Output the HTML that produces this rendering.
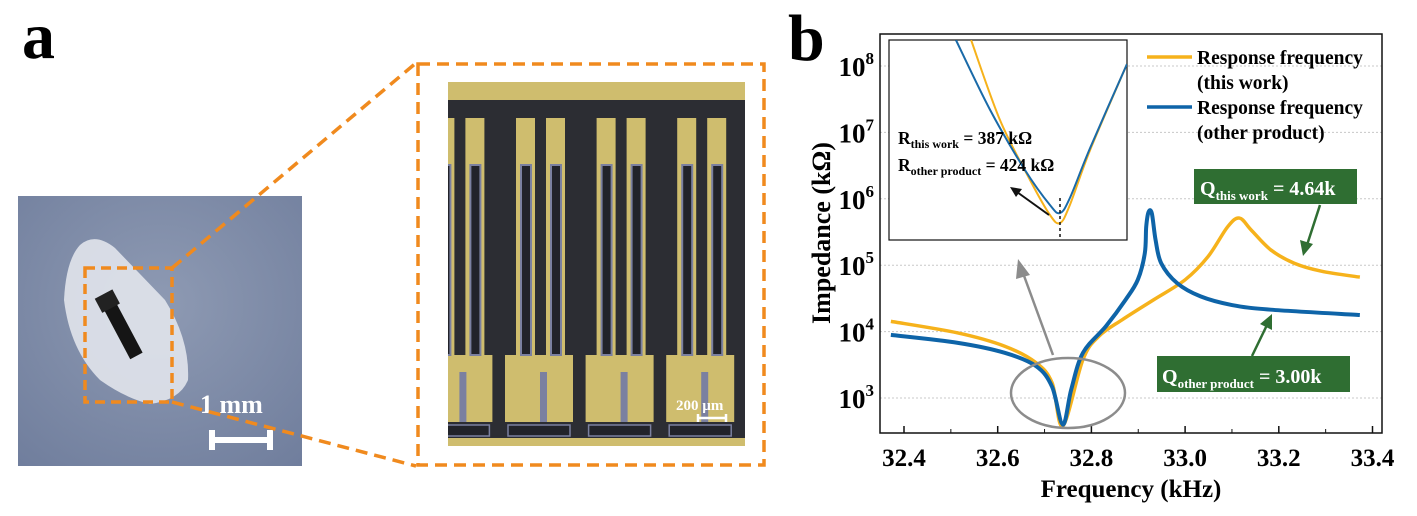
<!DOCTYPE html>
<html><head><meta charset="utf-8"><style>
html,body{margin:0;padding:0;background:#fff;}
svg{display:block;font-family:"Liberation Serif",serif;}
</style></head><body>
<svg id="fig" width="1417" height="516" viewBox="0 0 1417 516" xmlns="http://www.w3.org/2000/svg">
<defs>
<clipPath id="micClip"><rect x="448" y="82" width="297" height="364"/></clipPath>
<clipPath id="plotClip"><rect x="880" y="34" width="502" height="399"/></clipPath>
<clipPath id="insetClip"><rect x="889" y="40" width="238" height="200"/></clipPath>
<radialGradient id="bg" cx="0.5" cy="0.4" r="0.8"><stop offset="0" stop-color="#8e9ab3"/><stop offset="1" stop-color="#6f7d9c"/></radialGradient>
</defs>
<!-- panel a -->
<text x="22" y="58" font-size="66" font-weight="bold">a</text>
<g>
<rect x="18" y="196" width="284" height="270" fill="url(#bg)"/>
<path d="M80 245 Q95 232 115 248 L165 300 Q190 340 188 380 Q180 400 150 404 Q125 398 100 380 Q70 350 64 300 Q66 260 80 245Z" fill="#dfe3ea" opacity="0.92"/>
<g transform="rotate(-28 120 325)"><rect x="113" y="295" width="14" height="65" fill="#151515"/><rect x="110" y="290" width="20" height="16" fill="#222"/></g>
<text x="200" y="413" fill="#fff" font-size="26" font-weight="bold">1 mm</text>
<path d="M212 440 H270 M212 430 V450 M270 430 V450" stroke="#fff" stroke-width="6" fill="none"/>
</g>
<rect x="85" y="268" width="87" height="134" fill="none" stroke="#f08a1e" stroke-width="3.5" stroke-dasharray="10 6"/>
<path d="M172 268 L416 63 M172 402 L416 466" stroke="#f08a1e" stroke-width="3.5" stroke-dasharray="12 7" fill="none"/>
<rect x="418" y="64" width="346" height="401" fill="none" stroke="#f08a1e" stroke-width="3.5" stroke-dasharray="12 7"/>
<g clip-path="url(#micClip)" id="mic">
<rect x="448" y="82" width="297" height="364" fill="#2c2d33"/>
<rect x="448" y="82" width="297" height="18" fill="#cfbd6e"/>
<rect x="448" y="438" width="297" height="8" fill="#cfbd6e"/>
</g>
<text x="676" y="410" fill="#fff" font-size="15" font-weight="bold">200 µm</text>
<path d="M698 418 H726 M698 414 V422 M726 414 V422" stroke="#fff" stroke-width="2.5" fill="none"/>
<!-- panel b -->
<text x="788" y="60" font-size="66" font-weight="bold">b</text>
<g id="grid"></g>
<g id="main" clip-path="url(#plotClip)"></g>
<rect x="880" y="34" width="502" height="399" fill="none" stroke="#111" stroke-width="1.5"/>
<g id="axes"></g>
<text transform="translate(830 233) rotate(-90)" text-anchor="middle" font-size="26" font-weight="bold">Impedance (kΩ)</text>
<text x="1131" y="497" text-anchor="middle" font-size="25" font-weight="bold">Frequency (kHz)</text>
<!-- inset -->
<rect x="889" y="40" width="238" height="200" fill="#fff" stroke="#111" stroke-width="1.2"/>
<g id="inset" clip-path="url(#insetClip)"></g>
<line x1="1060" y1="198" x2="1060" y2="240" stroke="#111" stroke-width="1.5" stroke-dasharray="3 3"/>
<text x="898" y="144" font-size="17.5" font-weight="bold">R<tspan font-size="12" dy="4">this work</tspan><tspan dy="-4"> = 387 kΩ</tspan></text>
<text x="898" y="171" font-size="17.5" font-weight="bold">R<tspan font-size="12" dy="4">other product</tspan><tspan dy="-4"> = 424 kΩ</tspan></text>
<g><line x1="1049" y1="215" x2="1017" y2="192" stroke="#111" stroke-width="2"/><polygon points="1010,187 1022,189 1016,197" fill="#111"/></g>
<!-- legend -->
<g>
<g><line x1="1147" y1="57" x2="1192" y2="57" stroke="#f6b21b" stroke-width="3.5"/><text x="1197" y="64" font-size="19.5" font-weight="bold">Response frequency</text><text x="1197" y="89" font-size="19.5" font-weight="bold">(this work)</text></g>
<g><line x1="1147" y1="107" x2="1192" y2="107" stroke="#0e64a8" stroke-width="3.5"/><text x="1197" y="114" font-size="19.5" font-weight="bold">Response frequency</text><text x="1197" y="139" font-size="19.5" font-weight="bold">(other product)</text></g>
</g>
<!-- annotations -->
<ellipse cx="1068" cy="393" rx="57" ry="35" fill="none" stroke="#8c8c8c" stroke-width="2.5"/>
<g><line x1="1053" y1="355" x2="1023" y2="273" stroke="#8c8c8c" stroke-width="2.5"/><polygon points="1018,259 1030,275 1016,279" fill="#8c8c8c"/></g>
<rect x="1194" y="169" width="163" height="35" fill="#2f6e32"/>
<text x="1200" y="195" fill="#fff" font-size="20" font-weight="bold">Q<tspan font-size="13" dy="5">this work</tspan><tspan dy="-5"> = 4.64k</tspan></text>
<rect x="1157" y="356" width="193" height="36" fill="#2f6e32"/>
<text x="1162" y="383" fill="#fff" font-size="20" font-weight="bold">Q<tspan font-size="13" dy="5">other product</tspan><tspan dy="-5"> = 3.00k</tspan></text>
<g><line x1="1320" y1="205" x2="1307" y2="245" stroke="#2f6e32" stroke-width="2.5"/><polygon points="1303,256 1300,240 1313,244" fill="#2f6e32"/></g>
<g><line x1="1252" y1="356" x2="1267" y2="325" stroke="#2f6e32" stroke-width="2.5"/><polygon points="1272,314 1272,330 1260,324" fill="#2f6e32"/></g>
</svg>
<script>
// main chart data (frequency kHz, log10 impedance kΩ)
const xTicks = [32.4, 32.6, 32.8, 33.0, 33.2, 33.4];
const xTickLabels = ["32.4", "32.6", "32.8", "33.0", "33.2", "33.4"];
const yTicks = [3, 4, 5, 6, 7, 8];
const freqThisWork = [32.372, 32.515, 32.615, 32.682, 32.716, 32.739, 32.782, 32.816, 32.866, 32.933, 33.0, 33.049, 33.091, 33.116, 33.141, 33.183, 33.233, 33.291, 33.373];
const logZThisWork = [4.154, 3.98, 3.78, 3.53, 3.23, 2.58, 3.58, 3.93, 4.18, 4.48, 4.78, 5.13, 5.58, 5.71, 5.53, 5.23, 5.03, 4.91, 4.82];
const freqOther = [32.372, 32.515, 32.615, 32.682, 32.716, 32.739, 32.757, 32.782, 32.831, 32.873, 32.899, 32.914, 32.917, 32.922, 32.929, 32.937, 32.949, 32.983, 33.033, 33.1, 33.183, 33.373];
const logZOther = [3.95, 3.83, 3.68, 3.48, 3.17, 2.6, 3.13, 3.68, 4.08, 4.48, 4.78, 5.18, 5.58, 5.8, 5.78, 5.38, 5.03, 4.73, 4.53, 4.4, 4.33, 4.25];
// inset data
const insetFreqThisWork = [32.7276, 32.7373, 32.7474, 32.7541, 32.7575, 32.7608, 32.7676, 32.78];
const insetLogZThisWork = [3.32, 3.0, 2.76, 2.62, 2.588, 2.66, 2.88, 3.224];
const insetFreqOther = [32.7225, 32.734, 32.7457, 32.7541, 32.7575, 32.7608, 32.7676, 32.78];
const insetLogZOther = [3.32, 3.04, 2.8, 2.66, 2.628, 2.688, 2.888, 3.224];

const NS = "http://www.w3.org/2000/svg";
function mk(tag, attrs, parent){const e=document.createElementNS(NS,tag);for(const k in attrs)e.setAttribute(k,attrs[k]);parent.appendChild(e);return e;}
const X = f => 904 + (f - 32.4) * 468.5;
const Y = l => 66 + (8 - l) * 66.4;
const IX = f => 889 + (f - 32.70) / 0.08 * 238;
const IY = l => 240 - (l - 2.52) * 250;
function smooth(pts){let d="M"+pts[0][0]+" "+pts[0][1];for(let i=0;i<pts.length-1;i++){const p0=pts[i-1]||pts[i],p1=pts[i],p2=pts[i+1],p3=pts[i+2]||p2;const c1=[p1[0]+(p2[0]-p0[0])/6,p1[1]+(p2[1]-p0[1])/6],c2=[p2[0]-(p3[0]-p1[0])/6,p2[1]-(p3[1]-p1[1])/6];d+=" C"+c1.join(" ")+" "+c2.join(" ")+" "+p2.join(" ");}return d;}

const grid=document.getElementById('grid'), axes=document.getElementById('axes'), main=document.getElementById('main'), inset=document.getElementById('inset');
yTicks.forEach(t=>{
  const g=mk('line',{x1:880,x2:1382,y1:Y(t),y2:Y(t),stroke:'#c8c8c8','stroke-width':1,'stroke-dasharray':'2 2'},grid);
  
  
  const tx=mk('text',{x:874,y:Y(t)+10,'text-anchor':'end','font-size':27,'font-weight':'bold'},axes);
  
  
  tx.textContent='10';
  const sp=mk('tspan',{'font-size':17,dy:-12},tx); sp.textContent=String(t);
});
xTicks.forEach((t,i)=>{
  const tk=mk('line',{x1:X(t),x2:X(t),y1:433,y2:426,stroke:'#111','stroke-width':1.5},axes);
  
  
  const m=mk('line',{x1:X(t+0.1),x2:X(t+0.1),y1:433,y2:429,stroke:'#111','stroke-width':1},axes);
  
  
  const tx=mk('text',{x:X(t),y:466,'text-anchor':'middle','font-size':25,'font-weight':'bold'},axes);
  
  
  tx.textContent=xTickLabels[i];
});
const l1=mk('path',{d:smooth(freqThisWork.map((f,i)=>[X(f),Y(logZThisWork[i])])),fill:'none',stroke:'#f6b21b','stroke-width':3.5},main);


const l2=mk('path',{d:smooth(freqOther.map((f,i)=>[X(f),Y(logZOther[i])])),fill:'none',stroke:'#0e64a8','stroke-width':4},main);


const i1=mk('path',{d:smooth(insetFreqThisWork.map((f,i)=>[IX(f),IY(insetLogZThisWork[i])])),fill:'none',stroke:'#f6b21b','stroke-width':2},inset);


const i2=mk('path',{d:smooth(insetFreqOther.map((f,i)=>[IX(f),IY(insetLogZOther[i])])),fill:'none',stroke:'#1a6aa8','stroke-width':2},inset);



// microscope image structure
const mic=document.getElementById('mic');
for(let g=-1;g<4;g++){
  const ox=516+80.6*g;
  mk('rect',{x:ox-11,y:355,width:68,height:67,fill:'#cfbd6e'},mic);
  mk('rect',{x:ox+24,y:372,width:7,height:50,fill:'#7b80a0'},mic);
  [ox, ox+30].forEach(fx=>{
    mk('rect',{x:fx,y:118,width:19,height:250,fill:'#cfbd6e'},mic);
    mk('rect',{x:fx+5,y:165,width:10,height:190,fill:'#22232a',stroke:'#7b80a0','stroke-width':2},mic);
  });
  mk('rect',{x:ox-8,y:425,width:62,height:11,fill:'#22232a',stroke:'#7b80a0','stroke-width':1.5},mic);
}
</script>
</body></html>
